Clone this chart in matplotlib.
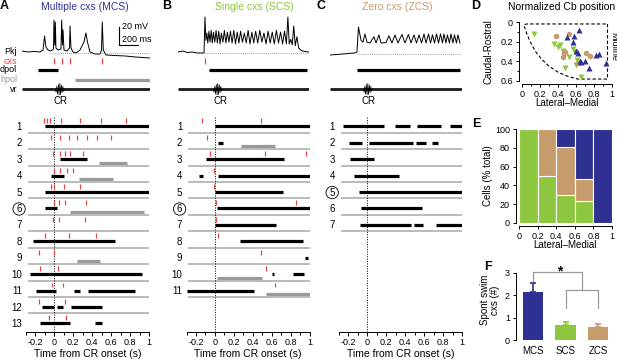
#!/usr/bin/env python3
'''
Complex spike rasters around swim CRs, Cb position map and summary bars.
'''
### MODULES ---
import numpy as np
import matplotlib.pyplot as plt


### DATA ---
## Colours
mcsColor = '#2e3192'
scsColor = '#8dc63f'
zcsColor = '#c69c6d'
cxsColor = '#e8434b'
hpolColor = '#9a9a9a'

## Example Vm traces (ms from trace start, mV above baseline)
aVmT = [0, 64, 127, 191, 223, 239, 254, 276, 307, 334, 339, 348, 353, 360, 382, 413, 421, 429,
        435, 445, 477, 504, 509, 519, 541, 572, 615, 657, 678, 694, 721, 774, 827, 843, 851, 862,
        890, 986, 1092, 1198, 1357]
aVmV = [1.1, 0, 0.6, 0, 2.2, 17.8, 5.6, 2.2, 1.1, 3.3, 35.5, 7.8, 33.3, 4.4, 2.2, 3.3, 35.5, 7.8,
        24.4, 2.2, 1.1, 4.4, 28.9, 4.4, 0, -1.1, 2.2, 11.1, 21.1, 11.1, 0, -2.2, -2.2, 2.2, 33.3, 2.2,
        -3.3, -3.9, -4.4, -5.5, -6.7]

bVmT = [0, 50, 100, 150, 200, 276, 286,
        296, 306, 316, 328, 340, 352, 364, 376, 390, 404, 418, 432, 446, 460, 476, 492, 508, 524,
        540, 556, 574, 592, 610, 628, 646, 664, 684, 704, 724, 744, 764, 784, 804, 824, 846, 868,
        890, 912, 934, 956, 978, 1000, 1022, 1044, 1066, 1088, 1110, 1130, 1150,
        1166, 1180, 1196, 1212, 1228, 1244, 1262, 1280, 1310, 1350, 1390]
bVmV = [0, 1.1, -0.6, 0, -1.1, -1.1, 38.9,
        13, 21, 10, 23, 11, 24, 10, 22, 11, 24, 10, 23, 9, 21, 11, 24, 10, 22, 11, 23,
        10, 24, 9, 22, 10, 23, 11, 21, 10, 24, 9, 22, 10, 23, 10, 24, 11, 21, 9, 23,
        10, 22, 9, 24, 10, 22, 9, 23, 9,
        38.9, 9, 14, 8, 28.9, 7, 17, 4.4, 1.5, 0.5, 0]

cVmT = [0, 106, 212, 265, 286, 302, 329, 350, 371, 392, 424, 466, 488, 519, 541, 594, 625, 657,
        689, 721, 763, 795, 832, 859, 891, 917, 944, 971, 997, 1018, 1045, 1066, 1087, 1108, 1130,
        1151, 1172, 1193, 1208, 1230, 1245, 1267, 1283, 1304, 1320, 1341, 1357, 1378]
cVmV = [-3.3, -2.5, -1.5, -1.1, 0, 27.8, 13, 11, 20, 11, 10, 17, 10, 19, 10, 10.5, 18, 10,
        18.9, 10, 19.5, 10, 19.5, 10, 19, 10, 19, 10, 20, 10, 20, 10, 19, 10, 20,
        10, 20, 10, 20, 10, 19, 10, 20, 10, 19, 10, 19, 10]

## Example trial events (ms from trace start)
aTopCxs = [339, 424, 509, 848]
aTopDpol = [(170, 382)]
aTopHpol = [(562, 1357)]
aTopCR = 403
bTopCxs = [286]
bTopDpol = [(329, 1367)]
bTopHpol = []
bTopCR = 424
cTopCxs = []
cTopDpol = [(286, 1378)]
cTopHpol = []
cTopCR = 403

# Ventral root burst (ms from CR, amplitude in rows)
vrBurstDt = [-50, -42, -34, -26, -18, -10, -2, 6, 14, 22, 30, 38, 46]
vrBurstAmp = [0, 0.35, -0.3, 0.55, -0.5, 0.65, -0.6, 0.6, -0.45, 0.4, -0.3, 0.25, 0]

## Rasters (s from CR onset)
aCxs = [[-0.11, -0.08, -0.05, 0.07, 0.27, 0.49, 0.755],
        [-0.04, 0.064, 0.15, 0.24, 0.34, 0.45, 0.60],
        [-0.01, 0.064, 0.11, 0.17, 0.30],
        [0.0, 0.064, 0.135, 0.2],
        [-0.04, 0.0, 0.1, 0.27],
        [0.0, 0.046, 0.114, 0.33],
        [-0.01, 0.046, 0.32],
        [-0.096, 0.15, 0.44],
        [-0.167, -0.007],
        [-0.15, 0.043],
        [-0.03, 0.09],
        [-0.167, 0.114],
        [-0.06, 0.125]]
aDpol = [[(-0.1, 1.0)], [], [(0.064, 0.34)], [(-0.04, 0.106)], [(-0.095, 1.0)], [(-0.1, 0.03)],
         [], [(-0.23, 0.645)], [], [(-0.26, 0.93)],
         [(-0.19, 0.02), (0.21, 0.27), (0.355, 0.85)],
         [(-0.13, 0.0), (0.03, 0.096), (0.18, 0.50)],
         [(-0.15, 0.16), (0.425, 0.50)]]
aHpol = [[], [], [(0.47, 0.77)], [(0.26, 0.62)], [], [(0.16, 0.95)], [], [], [(0.24, 0.48)],
         [], [], [], []]

bCxs = [[-0.14, 0.49], [-0.08], [-0.05, 0.53, 0.96], [-0.01], [-0.01], [0.01, 0.86], [0.01],
        [0.03], [0.49], [0.54], [0.64]]
bDpol = [[(0.0, 1.0)], [(0.035, 0.09)], [(-0.09, 0.73)], [(-0.17, -0.125), (0.035, 1.0)],
         [(0.0, 0.715)], [(0.02, 1.0)], [(0.0, 0.645)], [(0.265, 0.93)], [(0.95, 0.98)],
         [(0.60, 0.63), (0.83, 0.94)], [(-0.29, 0.41)]]
bHpol = [[], [(0.28, 0.64)], [], [], [], [], [], [], [], [(0.02, 0.50)], [(0.54, 1.0)]]

cCxs = [[], [], [], [], [], [], []]
cDpol = [[(-0.26, 0.18), (0.29, 0.45), (0.52, 0.78), (0.87, 1.0)],
         [(-0.19, -0.06), (0.02, 0.48), (0.51, 0.62), (0.68, 0.745)],
         [(-0.18, 0.075)],
         [(-0.145, 0.33)],
         [(-0.09, 1.0)],
         [(-0.07, 0.58)],
         [(-0.075, 0.465), (0.49, 0.59), (0.73, 1.0)]]
cHpol = [[], [], [], [], [], [], []]

## Normalized Cb position
cbOutlineX = [0.95, 0.95, 0.62, 0.50, 0.40, 0.30, 0.22, 0.15, 0.09, 0.05, 0.02, 0.05, 0.95]
cbOutlineY = [0.02, 0.58, 0.58, 0.55, 0.51, 0.45, 0.38, 0.30, 0.20, 0.11, 0.03, 0.02, 0.02]
scsX = [0.13, 0.36, 0.40, 0.42, 0.45, 0.48, 0.57, 0.59, 0.60, 0.61, 0.66, 0.52]
scsY = [0.12, 0.22, 0.25, 0.23, 0.29, 0.47, 0.27, 0.31, 0.44, 0.39, 0.56, 0.36]
zcsX = [0.38, 0.52, 0.48, 0.46, 0.47, 0.62, 0.71, 0.75]
zcsY = [0.14, 0.12, 0.31, 0.36, 0.32, 0.42, 0.32, 0.35]
mcsX = [0.50, 0.63, 0.57, 0.60, 0.62, 0.64, 0.66, 0.70, 0.74, 0.82, 0.85, 0.93, 0.58]
mcsY = [0.15, 0.08, 0.20, 0.29, 0.32, 0.40, 0.41, 0.40, 0.47, 0.34, 0.33, 0.42, 0.14]

## Cell fractions by lateral-medial bin
binLeft = [0, 0.2, 0.4, 0.6, 0.8]
eScs = [100, 50, 30, 23, 0]
eZcs = [0, 50, 51, 24, 0]
eMcs = [0, 0, 19, 53, 100]

## Spontaneous swim cxs
swimGroups = ['MCS', 'SCS', 'ZCS']
swimMean = [2.15, 0.68, 0.60]
swimSem = [0.40, 0.13, 0.12]


### SETTINGS ---
plt.rcParams['font.family'] = ['Liberation Sans', 'DejaVu Sans']
plt.rcParams['axes.unicode_minus'] = False
plt.rcParams['font.size'] = 6.5
plt.rcParams['axes.linewidth'] = 0.7
for a in ['xtick', 'ytick']:
    plt.rcParams[a + '.major.width'] = 0.7
    plt.rcParams[a + '.minor.width'] = 0.7
    plt.rcParams[a + '.labelsize'] = 6.5

W, H = 617, 360
fig = plt.figure(figsize=(W/100, H/100), dpi=100)


### FUNCTIONS ---
def px_axes(left, top, right, bottom):
    return fig.add_axes([left/W, 1 - bottom/H, (right - left)/W, (bottom - top)/H])


def px_text(x, y, s, **kw):
    kw.setdefault('ha', 'center')
    kw.setdefault('va', 'center')
    fig.text(x/W, 1 - y/H, s, **kw)


def draw_top(left, right, tEnd, vmT, vmV, base, cxs, dpol, hpol, cr):
    # Vm trace
    ax = px_axes(left, 14, right, 62)
    ax.plot(vmT, vmV, color='k', lw=0.7)
    ax.plot(base[:2], [base[2]]*2, color='#777777', lw=0.6, ls=(0, (1, 1.5)))
    ax.set_xlim(0, tEnd)
    ax.set_ylim(-11.1, 42.2)
    ax.axis('off')

    # Event rows: cxs, dpol, hpol, vr
    ev = px_axes(left, 56, right, 95)
    if cxs:
        ev.vlines(cxs, -0.28, 0.28, color=cxsColor, lw=0.9)
    for s, e in dpol:
        ev.plot([s, e], [1, 1], color='k', lw=2.3, solid_capstyle='butt')
    for s, e in hpol:
        ev.plot([s, e], [2, 2], color=hpolColor, lw=2.3, solid_capstyle='butt')
    ev.plot([0, tEnd], [3, 3], color='#1a1a1a', lw=2.0, solid_capstyle='butt')
    ev.plot(cr + np.array(vrBurstDt), 3 + np.array(vrBurstAmp), color='k', lw=0.5)
    ev.set_xlim(0, tEnd)
    ev.set_ylim(3.64, -0.54)
    ev.axis('off')
    return ax


def draw_raster(left, right, cxs, dpol, hpol, nSep, circled):
    ax = px_axes(left, 116, right, 332)
    rows = np.arange(1, len(dpol) + 1)

    ax.hlines(rows[:nSep] + 0.42, -0.28, 1.0, color='#a8a8a8', lw=1.1)
    ax.axvline(0, color='k', lw=0.7, ls=(0, (1, 1.5)))
    for r, ticks, black, grey in zip(rows, cxs, dpol, hpol):
        if ticks:
            ax.vlines(ticks, r - 0.46, r - 0.16, color=cxsColor, lw=0.9)
        for s, e in black:
            ax.plot([s, e], [r + 0.03]*2, color='k', lw=2.3, solid_capstyle='butt')
        for s, e in grey:
            ax.plot([s, e], [r + 0.24]*2, color=hpolColor, lw=2.3, solid_capstyle='butt')

    ax.set_xlim(-0.3, 1.0)
    ax.set_ylim(13.55, 0.4)
    for side in ['left', 'top', 'right']:
        ax.spines[side].set_visible(False)

    xMajor = [-0.2, 0, 0.2, 0.4, 0.6, 0.8, 1.0]
    ax.set_xticks(xMajor)
    ax.set_xticklabels(['{:g}'.format(v) for v in xMajor])
    ax.set_xticks([-0.3, -0.1, 0.1, 0.3, 0.5, 0.7, 0.9], minor=True)
    ax.tick_params(axis='x', which='major', length=3, pad=1.5)
    ax.tick_params(axis='x', which='minor', length=2.5)
    ax.set_xlabel('Time from CR onset (s)', fontsize=7.5, labelpad=1.5)

    ax.set_yticks(rows)
    ax.set_yticklabels([str(r) for r in rows])
    ax.tick_params(axis='y', length=0, pad=3, labelsize=7)
    for lbl in ax.get_yticklabels():
        if lbl.get_text() == str(circled):
            lbl.set_bbox(dict(boxstyle='circle,pad=0.12', fc='none', ec='k', lw=0.6))
    return ax


def offset_spines(ax, bottom=True):
    for side in ['top', 'right']:
        ax.spines[side].set_visible(False)
    ax.spines['left'].set_position(('outward', 2.5))
    if bottom:
        ax.spines['bottom'].set_position(('outward', 2.5))
    ax.tick_params(length=2.5, pad=1.5)
    ax.tick_params(which='minor', length=1.5)


### PLOT ---
## Titles and panel letters
px_text(85, 7, 'Multiple cxs (MCS)', color=mcsColor, fontsize=7.5)
px_text(254, 7, 'Single cxs (SCS)', color=scsColor, fontsize=7.5)
px_text(397, 7, 'Zero cxs (ZCS)', color=zcsColor, fontsize=7.5)
px_text(562, 7, 'Normalized Cb position', fontsize=7.5)
for letter, x, y in [('A', 4, 6), ('B', 167, 6), ('C', 321, 6), ('D', 476, 6),
                     ('E', 476, 124), ('F', 488, 267)]:
    px_text(x, y, letter, fontsize=9, fontweight='bold')

## Example trials
axA = draw_top(22, 150, 1357, aVmT, aVmV, (297, 1357, -1.1), aTopCxs, aTopDpol, aTopHpol, aTopCR)
draw_top(178, 309, 1390, bVmT, bVmV, (286, 1390, -1.1), bTopCxs, bTopDpol, bTopHpol, bTopCR)
draw_top(330, 462, 1400, cVmT, cVmV, (286, 1378, -2.2), cTopCxs, cTopDpol, cTopHpol, cTopCR)

# Scale bar
axA.plot([1028, 1028, 1228], [27.8, 7.8, 7.8], color='k', lw=0.8, clip_on=False)
axA.text(1060, 27.8, '20 mV', fontsize=6.5, ha='left', va='center')
axA.text(1060, 14.4, '200 ms', fontsize=6.5, ha='left', va='center')

# Row labels
for name, y, col in [('Pkj', 52, 'k'), ('cxs', 61, cxsColor), ('dpol', 70, 'k'),
                     ('hpol', 79, hpolColor), ('vr', 89, 'k')]:
    px_text(17, y, name, color=col, fontsize=6.5, ha='right')
for x in [60, 221, 368]:
    px_text(x, 101, 'CR', fontsize=7)

## Rasters
draw_raster(26, 149, aCxs, aDpol, aHpol, 12, 6)
draw_raster(186.5, 309.5, bCxs, bDpol, bHpol, 11, 6)
draw_raster(339, 462, cCxs, cDpol, cHpol, 7, 5)

## D: Cb position
axD = px_axes(522, 22, 612, 81)
axD.plot(cbOutlineX, cbOutlineY, color='k', lw=0.8, ls=(0, (3, 2)))
axD.plot(scsX, scsY, 'v', color=scsColor, ms=4.5, mec='none', clip_on=False)
axD.plot(zcsX, zcsY, 'o', color=zcsColor, ms=4, mec='none', clip_on=False)
axD.plot(mcsX, mcsY, '^', color=mcsColor, ms=4.5, mec='none', clip_on=False)
axD.text(1.015, 0.25, 'Midline', rotation=270, ha='center', va='center', fontsize=6.5)
axD.set_xlim(0, 1)
axD.set_ylim(0.6, 0)
axD.set_xticks([0, 0.2, 0.4, 0.6, 0.8, 1])
axD.set_xticklabels(['0', '0.2', '0.4', '0.6', '0.8', '1'])
axD.set_xticks([0.1, 0.3, 0.5, 0.7, 0.9], minor=True)
axD.set_yticks([0, 0.2, 0.4, 0.6])
axD.set_yticklabels(['0', '0.2', '0.4', '0.6'])
axD.set_yticks([0.1, 0.3, 0.5], minor=True)
offset_spines(axD)
px_text(488, 52, 'Caudal-Rostral', rotation=90, fontsize=7)
px_text(567, 103, 'Lateral\u2013Medial', fontsize=7)

## E: fractions
axE = px_axes(519, 129, 612, 223)
bottomZ = np.array(eScs)
bottomM = bottomZ + np.array(eZcs)
axE.bar(binLeft, eScs, width=0.2, align='edge', color=scsColor, edgecolor='white', lw=0.8)
axE.bar(binLeft, eZcs, bottom=bottomZ, width=0.2, align='edge', color=zcsColor,
        edgecolor='white', lw=0.8)
axE.bar(binLeft, eMcs, bottom=bottomM, width=0.2, align='edge', color=mcsColor,
        edgecolor='white', lw=0.8)
axE.set_xlim(0, 1)
axE.set_ylim(0, 100)
axE.set_xticks([0, 0.2, 0.4, 0.6, 0.8, 1])
axE.set_xticklabels(['0', '0.2', '0.4', '0.6', '0.8', '1'])
axE.set_yticks([0, 20, 40, 60, 80, 100])
offset_spines(axE)
px_text(488, 176, 'Cells (% total)', rotation=90, fontsize=7)
px_text(565, 245, 'Lateral\u2013Medial', fontsize=7)

## F: spontaneous swim cxs
axF = px_axes(519, 273, 612, 340)
xF = np.arange(len(swimGroups))
barColors = [mcsColor, scsColor, zcsColor]
axF.bar(xF, swimMean, width=0.62, color=barColors)
for xi, m, e, c in zip(xF, swimMean, swimSem, barColors):
    axF.errorbar(xi, m, yerr=[[0], [e]], fmt='none', ecolor=c, elinewidth=1.2, capsize=2,
                 capthick=1.2)
axF.plot([0, 0, 1.5, 1.5], [2.62, 3.04, 3.04, 2.26], color='#9a9a9a', lw=0.9, clip_on=False)
axF.plot([1, 1, 2, 2], [1.45, 2.26, 2.26, 1.45], color='#9a9a9a', lw=0.9, clip_on=False)
axF.text(0.83, 3.05, '*', ha='center', va='center', fontsize=10, fontweight='bold')
axF.set_xlim(-0.43, 2.43)
axF.set_ylim(0, 3)
axF.set_yticks([0, 1, 2, 3])
axF.set_xticks(xF)
axF.set_xticklabels(swimGroups, fontsize=7)
offset_spines(axF, bottom=False)
axF.spines['bottom'].set_visible(False)
axF.tick_params(axis='x', length=0, pad=4)
px_text(490, 300, 'Spont swim\ncxs (#)', rotation=90, fontsize=7, linespacing=1.0)

fig.savefig('out.png', dpi=100)
